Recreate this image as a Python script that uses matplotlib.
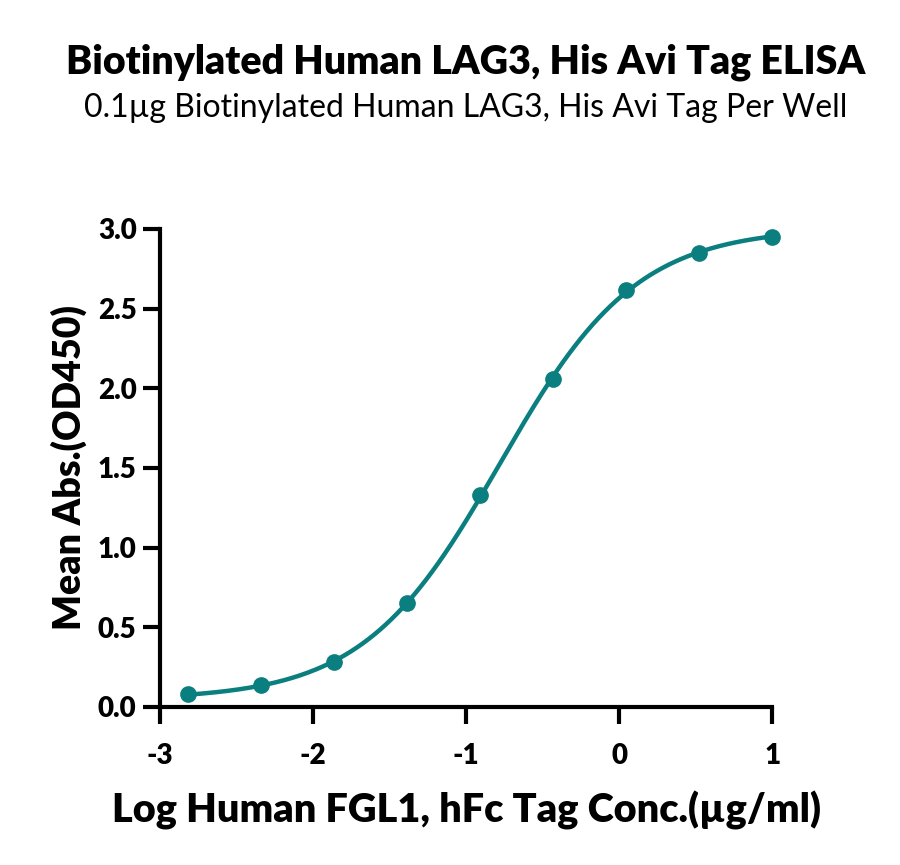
import numpy as np
import matplotlib
matplotlib.use("Agg")
import matplotlib.pyplot as plt

plt.rcParams['font.family'] = ['Lato', 'DejaVu Sans']

# 数据：log浓度 和 平均吸光度
log_conc = [-2.817, -2.340, -1.863, -1.386, -0.908, -0.431, 0.046, 0.523, 1.0]
mean_abs = [0.08, 0.135, 0.28, 0.655, 1.33, 2.06, 2.62, 2.85, 2.95]

x_ticks = [-3, -2, -1, 0, 1]
y_ticks = [0.0, 0.5, 1.0, 1.5, 2.0, 2.5, 3.0]

title = "Biotinylated Human LAG3, His Avi Tag ELISA"
subtitle = "0.1µg Biotinylated Human LAG3, His Avi Tag Per Well"
xlabel = "Log Human FGL1, hFc Tag Conc.(µg/ml)"
ylabel = "Mean Abs.(OD450)"

color = "#0b7e7f"


def fit_4pl(x, y):
    """四参数拟合：对logEC50和hill做网格搜索，底和顶用线性最小二乘"""
    x = np.asarray(x)
    y = np.asarray(y)
    best = None
    for ec in np.linspace(-2, 0.5, 251):
        for h in np.linspace(0.3, 3.0, 271):
            s = 1.0 / (1.0 + 10 ** ((ec - x) * h))
            A = np.column_stack([1 - s, s])
            coef, *_ = np.linalg.lstsq(A, y, rcond=None)
            err = np.sum((A @ coef - y) ** 2)
            if best is None or err < best[0]:
                best = (err, ec, h, coef)
    _, ec, h, coef = best
    return lambda xx: coef[0] + (coef[1] - coef[0]) / (1.0 + 10 ** ((ec - xx) * h))


curve = fit_4pl(log_conc, mean_abs)
xs = np.linspace(min(log_conc), max(log_conc), 300)

fig = plt.figure(figsize=(9, 8.65), dpi=100)
ax = fig.add_axes([0.178, 0.1827, 0.680, 0.5526])

ax.plot(xs, curve(xs), color=color, linewidth=3.2, zorder=2)
ax.plot(log_conc, mean_abs, "o", color=color, markersize=11, zorder=3, clip_on=False)

ax.set_xlim(-3, 1)
ax.set_ylim(0, 3.0)
ax.set_xticks(x_ticks)
ax.set_xticklabels([str(t) for t in x_ticks])
ax.set_yticks(y_ticks)
ax.set_yticklabels([f"{t:.1f}" for t in y_ticks])

for side in ["top", "right"]:
    ax.spines[side].set_visible(False)
for side in ["left", "bottom"]:
    ax.spines[side].set_linewidth(3)
ax.tick_params(width=3, length=12, labelsize=20)
ax.tick_params(axis="x", pad=14)
ax.tick_params(axis="y", pad=5)
for lab in ax.get_xticklabels() + ax.get_yticklabels():
    lab.set_fontweight("heavy")

ax.set_xlabel(xlabel, fontsize=28.5, fontweight="heavy", labelpad=16)
ax.set_ylabel(ylabel, fontsize=27, fontweight="heavy", labelpad=8)

fig.text(0.517, 0.928, title, ha="center", va="center", fontsize=28.3, fontweight="heavy")
fig.text(0.517, 0.875, subtitle, ha="center", va="center", fontsize=23)

fig.savefig("out.png", dpi=100)
